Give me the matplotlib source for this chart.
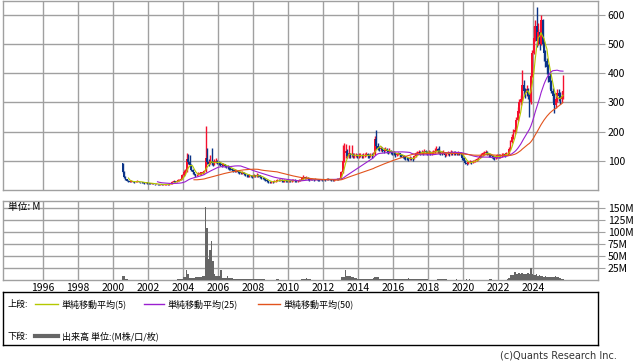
import numpy as np
import pandas as pd
import matplotlib
matplotlib.use('Agg')
import matplotlib.pyplot as plt

plt.rcParams['font.family'] = ['Noto Sans CJK JP', 'DejaVu Sans']

# monthly candles, first month = 2000-07
start_year = 2000.5
first_open = 92
close = [
    62, 45, 36, 32, 30, 28,                                    # 2000 (Jul-Dec)
    30, 28, 27, 29, 30, 28, 27, 26, 25, 24, 25, 24,            # 2001
    23, 22, 22, 21, 20, 21, 20, 19, 19, 18, 19, 20,            # 2002
    20, 19, 21, 23, 27, 30, 29, 32, 33, 35, 38, 50,            # 2003
    60, 65, 105, 95, 85, 70, 60, 55, 50, 52, 55, 58,           # 2004
    58, 62, 65, 110, 95, 90, 100, 92, 90, 95, 100, 95,         # 2005
    92, 88, 85, 88, 82, 80, 78, 75, 72, 70, 68, 65,            # 2006
    65, 62, 60, 58, 60, 55, 52, 50, 48, 50, 47, 45,            # 2007
    50, 48, 52, 50, 45, 42, 40, 38, 35, 30, 28, 27,            # 2008
    28, 27, 30, 32, 35, 33, 35, 32, 30, 33, 31, 30,            # 2009
    32, 30, 33, 35, 32, 30, 31, 33, 35, 40, 45, 40,            # 2010
    42, 38, 35, 37, 36, 35, 38, 36, 35, 34, 36, 35,            # 2011
    36, 35, 38, 37, 36, 35, 34, 35, 36, 38, 37, 40,            # 2012
    60, 100, 125, 135, 115, 125, 118, 122, 115, 118, 120, 115, # 2013
    118, 120, 115, 118, 120, 122, 118, 115, 120, 118, 122, 175,# 2014
    150, 145, 140, 142, 138, 135, 140, 132, 130, 135, 130, 128,# 2015
    125, 120, 122, 125, 120, 118, 115, 112, 110, 108, 105, 110,# 2016
    108, 106, 115, 125, 128, 130, 127, 130, 128, 132, 130, 128,# 2017
    130, 125, 128, 130, 135, 140, 132, 130, 128, 125, 130, 120,# 2018
    125, 128, 122, 130, 125, 128, 126, 125, 127, 125, 123, 110,# 2019
    100, 92, 90, 95, 97, 95, 98, 100, 103, 105, 110, 115,      # 2020
    120, 125, 128, 130, 125, 120, 118, 115, 112, 110, 115, 118,# 2021
    115, 118, 120, 122, 120, 125, 125, 140, 165, 180, 200, 205,# 2022
    240, 270, 300, 310, 360, 340, 330, 345, 320, 300, 390, 470,# 2023
    520, 560, 510, 540, 500, 580, 500, 470, 440, 420, 390, 370,# 2024
    340, 320, 290, 310, 330, 320, 310, 320, 340,               # 2025 (Jan-Sep)
]
high = [
    93, 65, 48, 38, 34, 31,
    33, 31, 30, 31, 33, 31, 29, 28, 27, 26, 27, 26,
    25, 24, 24, 23, 22, 23, 22, 21, 21, 20, 21, 22,
    22, 21, 23, 25, 30, 33, 32, 35, 36, 38, 41, 55,
    68, 72, 125, 122, 120, 88, 72, 62, 56, 56, 60, 62,
    63, 66, 70, 218, 142, 105, 120, 142, 100, 105, 108, 104,
    100, 97, 92, 93, 90, 86, 84, 81, 78, 76, 73, 71,
    70, 68, 65, 63, 64, 62, 57, 55, 53, 54, 52, 50,
    55, 53, 57, 55, 52, 47, 45, 42, 40, 37, 32, 30,
    31, 30, 33, 35, 38, 37, 38, 36, 34, 36, 34, 33,
    35, 33, 36, 38, 36, 33, 34, 36, 38, 44, 50, 46,
    47, 43, 39, 40, 39, 38, 41, 39, 38, 37, 39, 38,
    39, 38, 41, 40, 39, 38, 37, 38, 39, 41, 40, 44,
    66, 155, 160, 158, 140, 155, 128, 155, 125, 126, 127, 124,
    125, 127, 123, 125, 127, 130, 126, 122, 128, 125, 130, 185,
    204, 160, 150, 150, 146, 143, 147, 142, 137, 142, 138, 135,
    133, 128, 128, 131, 127, 124, 121, 118, 116, 114, 111, 116,
    114, 112, 120, 130, 134, 136, 133, 136, 134, 140, 137, 134,
    137, 133, 134, 136, 142, 150, 142, 150, 135, 132, 136, 131,
    131, 134, 130, 136, 132, 134, 132, 131, 133, 131, 129, 125,
    112, 104, 96, 99, 101, 100, 102, 104, 107, 109, 114, 120,
    126, 131, 134, 138, 132, 127, 124, 121, 118, 116, 121, 124,
    122, 124, 126, 128, 126, 131, 131, 147, 172, 190, 210, 215,
    250, 285, 310, 325, 409, 375, 350, 360, 350, 330, 400, 480,
    560, 580, 627, 570, 550, 597, 585, 510, 480, 450, 430, 400,
    375, 350, 330, 330, 345, 345, 335, 340, 392,
]
low = [
    58, 42, 33, 30, 27, 26,
    27, 26, 25, 26, 28, 26, 25, 24, 23, 22, 23, 22,
    21, 20, 20, 19, 18, 19, 18, 17, 17, 16, 17, 18,
    18, 17, 18, 20, 22, 26, 27, 28, 30, 32, 34, 37,
    48, 55, 62, 88, 78, 65, 56, 50, 46, 48, 50, 53,
    53, 56, 58, 62, 88, 82, 88, 85, 83, 86, 92, 88,
    86, 83, 80, 82, 77, 75, 73, 70, 67, 65, 63, 60,
    60, 58, 56, 54, 55, 51, 48, 46, 44, 45, 43, 41,
    44, 44, 46, 45, 41, 38, 36, 34, 30, 26, 25, 24,
    25, 24, 26, 29, 31, 30, 32, 29, 28, 29, 28, 27,
    29, 28, 29, 32, 29, 27, 28, 30, 32, 34, 39, 37,
    38, 35, 32, 34, 33, 32, 34, 33, 32, 31, 33, 32,
    33, 32, 34, 34, 33, 32, 31, 32, 33, 35, 34, 36,
    39, 58, 95, 110, 108, 110, 110, 112, 108, 110, 112, 108,
    110, 112, 108, 111, 113, 115, 111, 108, 112, 111, 115, 120,
    140, 138, 133, 135, 131, 128, 132, 125, 123, 127, 124, 121,
    118, 113, 116, 118, 114, 112, 109, 106, 104, 102, 100, 103,
    102, 100, 105, 113, 120, 123, 121, 123, 121, 125, 124, 121,
    123, 119, 121, 123, 128, 132, 126, 124, 121, 118, 123, 112,
    115, 121, 116, 121, 118, 121, 120, 119, 121, 119, 117, 104,
    96, 88, 85, 88, 91, 90, 92, 95, 97, 100, 103, 108,
    112, 117, 121, 123, 118, 114, 112, 109, 106, 104, 107, 111,
    108, 111, 114, 116, 114, 118, 119, 123, 138, 160, 175, 190,
    200, 235, 265, 290, 305, 320, 315, 320, 310, 250, 295, 385,
    465, 510, 490, 495, 480, 495, 490, 440, 420, 395, 370, 345,
    330, 300, 265, 280, 300, 305, 295, 300, 310,
]
# monthly volume, millions
volume = [
    9, 8, 3, 2, 1, 1,
    1, 1, 0.5, 0.5, 0.5, 0.5, 0.5, 0.5, 0.5, 0.5, 0.5, 0.5,
    0.5, 0.5, 0.5, 0.5, 0.5, 0.5, 0.5, 0.5, 0.5, 0.5, 0.5, 0.5,
    0.5, 0.5, 0.5, 0.5, 0.5, 0.5, 0.5, 1, 2, 2, 2, 3,
    6, 6, 21, 12, 5, 4, 4, 4, 7, 7, 7, 7,
    7, 9, 8, 153, 108, 44, 63, 82, 39, 12, 9, 9,
    8, 21, 21, 5, 5, 5, 9, 4, 4, 4, 3, 3,
    3, 3, 3, 2, 2, 2, 2, 2, 2, 2, 3, 2,
    2, 2, 2, 1.5, 1.5, 1.5, 1.5, 1.5, 1, 1, 1, 1,
    1, 1, 1, 1, 2, 2, 1, 1, 1, 1, 1, 1,
    1, 1, 1, 1, 1, 1, 1, 1, 1, 2, 3, 2,
    4, 3, 2, 1.5, 1, 1, 1, 1, 1, 1, 1, 1,
    0.8, 0.8, 0.8, 0.8, 0.8, 0.8, 0.8, 0.8, 0.8, 0.8, 0.8, 0.8,
    7, 7, 7, 21, 9, 9, 9, 7, 7, 3.5, 3.5, 3,
    2, 2, 2, 2, 2, 2, 2, 2, 2, 3, 4, 7,
    7, 7, 3, 3, 2, 2, 2, 1.5, 1.5, 1.5, 1.5, 1.5,
    2, 2, 2, 2, 2, 2, 2, 2, 2, 2, 5, 2,
    1.5, 1.5, 1.5, 1.5, 1.5, 1.5, 1.5, 1.5, 1.5, 1.5, 1.5, 1.5,
    1, 1, 1, 1, 1, 1, 2, 2, 2, 2, 2, 2,
    2, 1, 1, 1, 1, 1, 1, 2, 1, 1, 1, 1,
    1, 1, 2, 1, 2, 1, 1, 1, 1, 1, 1, 1,
    1, 1, 1, 1, 1, 1, 2, 2, 1, 1, 1, 1,
    1, 1, 1, 1, 1, 1, 2, 5, 10, 10, 10, 17,
    12, 13, 14, 12, 14, 13, 12, 12, 14, 13, 24, 12,
    11, 10, 12, 9, 10, 9, 9, 7, 8, 7, 6, 7,
    6, 7, 6, 8, 7, 6, 5, 3, 3,
]
year_ticks = list(range(1996, 2025, 2))
price_ticks = [100, 200, 300, 400, 500, 600]
vol_ticks = [25, 50, 75, 100, 125, 150]
ma_periods = [5, 25, 50]
ma_labels = ['単純移動平均(5)', '単純移動平均(25)', '単純移動平均(50)']
ma_colors = ['#b4c800', '#9a1fd0', '#e2531d']
up_col = '#f5102e'
dn_col = '#0b3488'
grid_col = '#a0a0a0'

W, H = 638, 362
def px_rect(x0, y0, x1, y1):
    return [x0 / W, 1 - y1 / H, (x1 - x0) / W, (y1 - y0) / H]

n = len(close)
xs = start_year + (np.arange(n) + 0.5) / 12.0
c = np.array(close, float)
o = np.concatenate([[first_open], c[:-1]])
hi = np.array(high, float)
lo = np.array(low, float)
up = c >= o

fig = plt.figure(figsize=(W / 100, H / 100), dpi=100)

def style(ax):
    for s in ax.spines.values():
        s.set_color(grid_col)
        s.set_linewidth(1)
    ax.grid(True, color=grid_col, lw=1)
    ax.set_axisbelow(True)
    ax.set_xlim(1993.71, 2027.71)
    ax.set_xticks(year_ticks)
    ax.yaxis.tick_right()
    ax.tick_params(axis='y', length=5, color=grid_col, labelsize=7.5, pad=2)
    ax.tick_params(axis='x', length=0)

# price panel
ax0 = fig.add_axes(px_rect(3, 0.5, 598, 190))
style(ax0)
ax0.set_ylim(0, 648)
ax0.set_yticks(price_ticks)
ax0.set_xticklabels([])
cols = np.where(up, up_col, dn_col)
ax0.vlines(xs, lo, hi, colors=cols, lw=1.0, zorder=3)
body = np.maximum(np.abs(c - o), 2)
ax0.bar(xs, body, bottom=np.minimum(o, c), width=0.1, color=cols, lw=0, zorder=3)
s = pd.Series(c, index=xs)
for p, col in zip(ma_periods, ma_colors):
    ma = s.rolling(p).mean()
    ax0.plot(xs, ma.values, color=col, lw=0.8, zorder=4)

# volume panel
ax1 = fig.add_axes(px_rect(3, 201, 598, 280))
style(ax1)
ax1.set_ylim(0, 164.6)
ax1.set_yticks(vol_ticks)
ax1.set_yticklabels(['%dM' % v for v in vol_ticks])
ax1.bar(xs, volume, width=0.085, color='#666666', lw=0, zorder=3)
ax1.set_xticklabels([str(y) for y in year_ticks], fontsize=7.5)
ax1.tick_params(axis='x', pad=2)
ax1.text(0.008, 0.92, '単位: M', transform=ax1.transAxes, fontsize=7,
         va='center', ha='left', zorder=5)

# legend box
lg = fig.add_axes(px_rect(3, 292, 598, 345))
lg.set_xlim(0, 595)
lg.set_ylim(53, 0)
lg.set_xticks([])
lg.set_yticks([])
for sp in lg.spines.values():
    sp.set_color('black')
    sp.set_linewidth(1)
fs = 6.5
lg.text(4, 12, '上段:', fontsize=fs, va='center')
line_x = [(32, 55), (141, 161), (255, 277)]
for (a, b), col, lab in zip(line_x, ma_colors, ma_labels):
    lg.plot([a, b], [12, 12], color=col, lw=1)
    lg.text(b + 4, 12, lab, fontsize=fs, va='center')
lg.text(4, 44, '下段:', fontsize=fs, va='center')
lg.plot([32, 55], [44, 44], color='#666666', lw=3)
lg.text(59, 44, '出来高 単位:(M株/口/枚)', fontsize=fs, va='center')

fig.text(617 / W, 1 - 355 / H, '(c)Quants Research Inc.', fontsize=7,
         ha='right', va='center', color='#333333', family=['DejaVu Sans'])

fig.savefig('out.png', dpi=100)
